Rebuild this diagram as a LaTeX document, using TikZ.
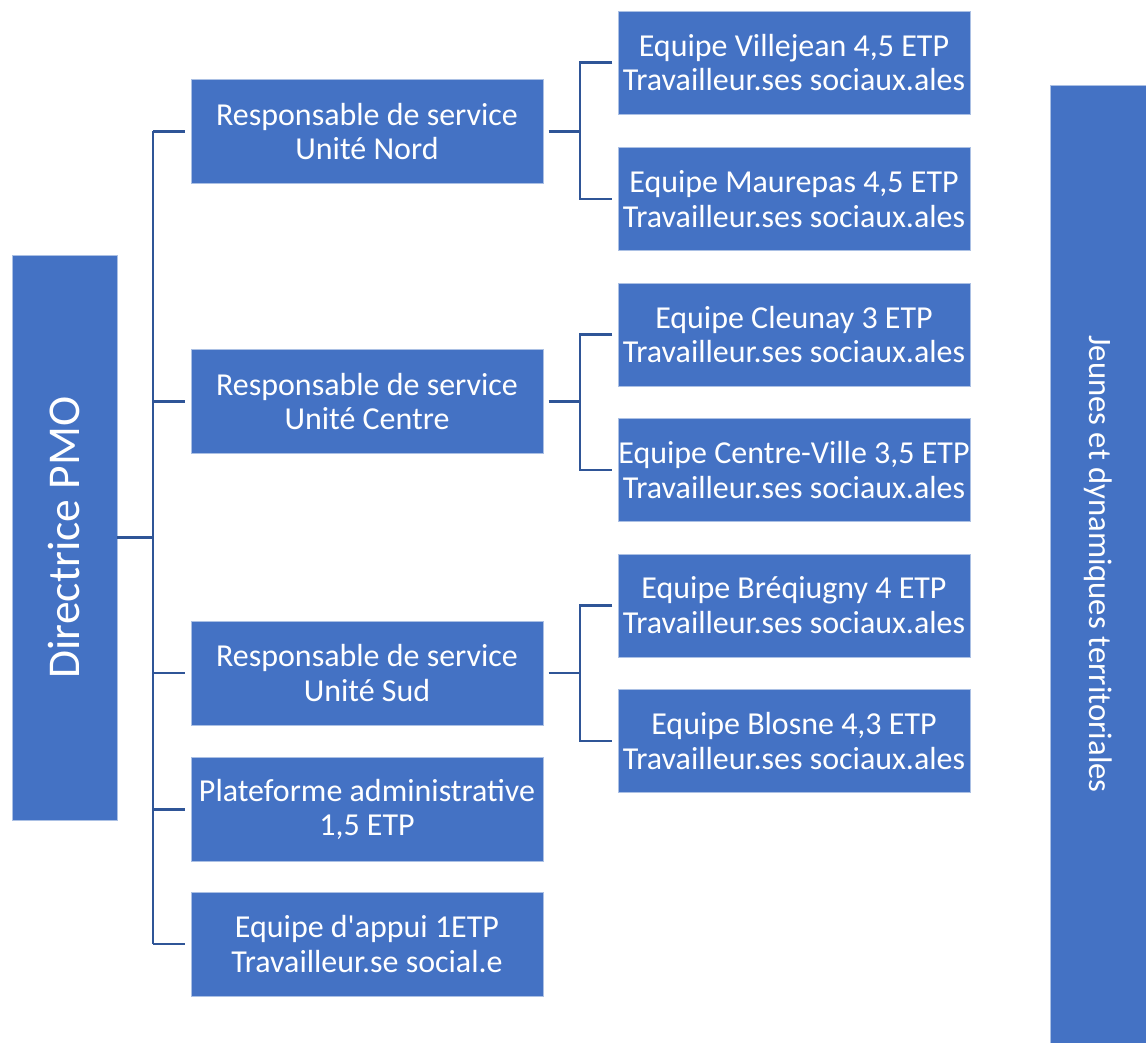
\documentclass[tikz,border=0pt]{standalone}
\usepackage{fontspec}
\setmainfont{Carlito}[Ligatures=TeXOff]
\definecolor{boxblue}{HTML}{4472C4}
\definecolor{linkblue}{HTML}{2F5597}
\tikzset{
  unit/.style={shape=rectangle, fill=boxblue, draw=white!55!boxblue, line width=0.4pt, text=white, align=center, inner sep=0pt, font=\fontsize{18.2}{19.8}\selectfont},
  midbox/.style={unit, minimum width=7.04cm, minimum height=2.08cm},
  teambox/.style={unit, minimum width=7.04cm, minimum height=2.06cm},
  link/.style={draw=linkblue, line width=1.2pt}
}
\begin{document}
\begin{tikzpicture}[x=0.02cm, y=-0.02cm]
\useasboundingbox (0,0) rectangle (1146,1043);
\node[unit, rotate=90, minimum width=11.3cm, minimum height=2.1cm, font=\fontsize{25.9}{30}\selectfont] (dir) at (64.5,537.5) {Directrice PMO};
\node[midbox] (nord) at (367,131.5) {Responsable de service\\Unité Nord};
\node[midbox] (centre) at (367,401.5) {Responsable de service\\Unité Centre};
\node[midbox] (sud) at (367,673) {Responsable de service\\Unité Sud};
\node[midbox] (plate) at (367,809.5) {Plateforme administrative\\1,5 ETP};
\node[midbox] (appui) at (367,944) {Equipe d'appui 1ETP\\Travailleur.se social.e};
\node[teambox] (villejean) at (794,62.5) {Equipe Villejean 4,5 ETP\\Travailleur.ses sociaux.ales};
\node[teambox] (maurepas) at (794,199) {Equipe Maurepas 4,5 ETP\\Travailleur.ses sociaux.ales};
\node[teambox] (cleunay) at (794,334.5) {Equipe Cleunay 3 ETP\\Travailleur.ses sociaux.ales};
\node[teambox] (cville) at (794,470) {Equipe Centre-Ville 3,5 ETP\\Travailleur.ses sociaux.ales};
\node[teambox] (breq) at (794,605.5) {Equipe Bréqiugny 4 ETP\\Travailleur.ses sociaux.ales};
\node[teambox] (blosne) at (794,741) {Equipe Blosne 4,3 ETP\\Travailleur.ses sociaux.ales};
\node[unit, rotate=-90, minimum width=19.16cm, minimum height=1.92cm, font=\fontsize{18.6}{22}\selectfont] (jeunes) at (1098,564) {Jeunes et dynamiques territoriales};
\coordinate (trunk) at (153,0);
\coordinate (fork) at (580,0);
% directrice to the units
\path[link] (dir.south) -- (dir.south -| trunk);
\path[link] (trunk |- nord.west) -- (trunk |- appui.west);
\foreach \u in {nord,centre,sud,plate,appui}
  \path[link] (trunk |- \u.west) -- ([xshift=-3pt]\u.west);
% units to the teams
\foreach \u/\a/\b in {nord/villejean/maurepas, centre/cleunay/cville, sud/breq/blosne} {
  \path[link] ([xshift=3pt]\u.east) -- (\u.east -| fork);
  \path[link] ([xshift=-3pt]\a.west) -| (fork |- \u.east) |- ([xshift=-3pt]\b.west);
}
\end{tikzpicture}
\end{document}
